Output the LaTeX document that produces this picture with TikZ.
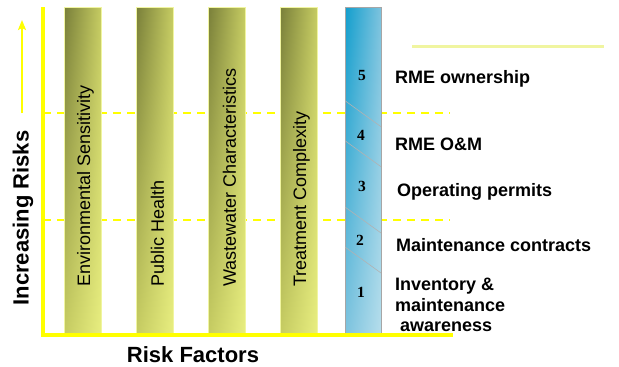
\documentclass[tikz,border=0pt]{standalone}
\usepackage{fontspec}
\setmainfont{Liberation Sans}
\newfontfamily\numfont{Liberation Serif}
\usetikzlibrary{shadings,arrows.meta}
\definecolor{axisyellow}{RGB}{255,255,0}
\definecolor{paleyellow}{RGB}{240,245,160}
\definecolor{oliveA}{RGB}{122,128,58}
\definecolor{oliveB}{RGB}{198,204,98}
\definecolor{oliveC}{RGB}{232,238,128}
\definecolor{blueA}{RGB}{18,158,205}
\definecolor{blueB}{RGB}{125,195,222}
\definecolor{blueC}{RGB}{182,222,236}
\tikzset{
  factorbar/.style={upper left=oliveA,upper right=oliveB,lower left=oliveB,lower right=oliveC},
  levelbar/.style={upper left=blueA,upper right=blueB,lower left=blueB,lower right=blueC},
  level/.style={anchor=base west,inner sep=0pt,font=\bfseries\fontsize{18}{20.3}\selectfont},
  levelnum/.style={anchor=base,font=\numfont\bfseries\fontsize{15.5}{15.5}\selectfont},
}
\begin{document}
\begin{tikzpicture}[x=1pt,y=-1pt,>={Stealth[length=10pt,width=8pt,inset=2pt]}]
\useasboundingbox (0,0) rectangle (619,367);
% dashed level lines
\draw[axisyellow,line width=1.8pt,dash pattern=on 8pt off 6pt](43,113)--(450,113);
\draw[axisyellow,line width=1.8pt,dash pattern=on 8pt off 6pt](43,220)--(450,220);
% risk factor bars
\foreach \x/\t [count=\i] in {83/Environmental Sensitivity,155/Public Health,227/Wastewater Characteristics,299/Treatment Complexity}
{
    \shade[factorbar](\x-18.5,7) rectangle (\x+18.5,333);
    \draw[paleyellow,line width=0.6pt](\x-18.5,333)--(\x-18.5,7)--(\x+18.5,7)--(\x+18.5,333);
    \node(F\i)[rotate=90,anchor=west,font=\fontsize{18}{20}\selectfont] at (\x+2.5,290){\t};
}
% level bar
\shade[levelbar](345,7) rectangle (381,333);
\draw[gray!70,line width=0.8pt](345,7) rectangle (381,333);
\foreach \a in {100.7,140.7,207,247}
{
    \draw[gray!60,line width=0.6pt](345,\a)--(381,\a+26);
}
\node(N5)[levelnum] at (362,80){5};
\node(N4)[levelnum] at (361,140){4};
\node(N3)[levelnum] at (362,191.7){3};
\node(N2)[levelnum] at (360,245){2};
\node(N1)[levelnum] at (361,297.7){1};
\node(L5)[level] at (395,83.3){RME ownership};
\node(L4)[level] at (395,150){RME O\&M};
\node(L3)[level] at (397,196.5){Operating permits};
\node(L2)[level] at (396,251.5){Maintenance contracts};
\node(L1)[level,align=left] at (395,331.5){Inventory \&\\maintenance\\\hspace{5pt}awareness};
% axes
\coordinate (Y) at (43,7);
\coordinate (O) at (43,335);
\coordinate (X) at (453,335);
\draw[axisyellow,line width=3.3pt](Y)--(O)--(X);
\coordinate (A0) at (22,113);
\coordinate (A1) at (22,20);
\draw[->,axisyellow,line width=2pt](A0)--(A1);
\coordinate (P0) at (412,46.3);
\coordinate (P1) at (604,46.3);
\draw[paleyellow,line width=3pt](P0)--(P1);
\node(YL)[rotate=90,font=\bfseries\fontsize{22}{24}\selectfont] at (23,218){Increasing Risks};
\node(XL)[font=\bfseries\fontsize{22}{24}\selectfont] at (193,355){Risk Factors};
\end{tikzpicture}
\end{document}
